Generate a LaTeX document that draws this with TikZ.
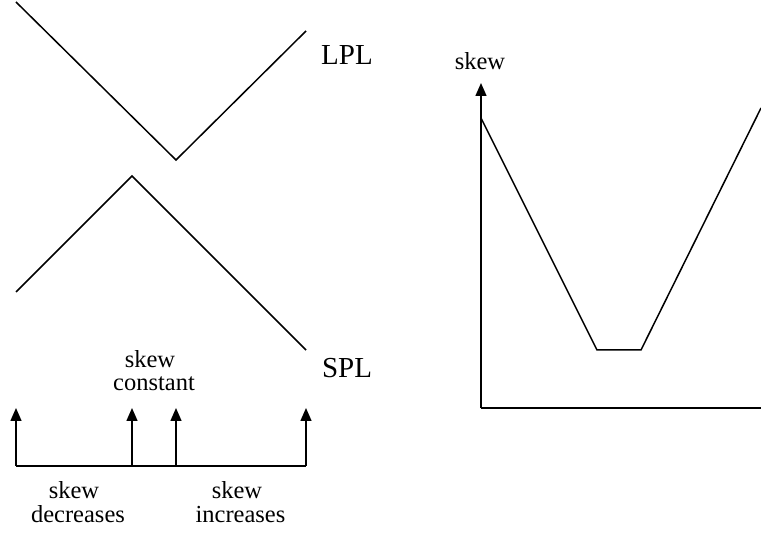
\documentclass[tikz,border=0pt]{standalone}
\usepackage{fontspec}
\setmainfont{Liberation Serif}
\usetikzlibrary{arrows.meta}
\begin{document}
\begin{tikzpicture}[x=1pt,y=-1pt,
  ln/.style={line width=1.5pt, line join=miter},
  arr/.style={ln, -{Triangle[length=13pt,width=11pt]}},
  big/.style={inner sep=0pt, font=\fontsize{29}{30}\selectfont},
  lbl/.style={inner sep=0pt, anchor=base, font=\fontsize{24.5}{24}\selectfont}]
\useasboundingbox (0,0) rectangle (761,534);
% left crossing curves
\coordinate (l1) at (16,2);
\coordinate (l2) at (176,160);
\coordinate (l3) at (306,31);
\draw[ln] (l1) -- (l2) -- (l3);
\coordinate (s1) at (16,292);
\coordinate (s2) at (132,176);
\coordinate (s3) at (306,350);
\draw[ln] (s1) -- (s2) -- (s3);
\node[big] (lpl) at (347,55) {LPL};
\node[big] (spl) at (347,368.5) {SPL};
% arrows on base line
\coordinate (b1) at (16,466);
\coordinate (b2) at (132,466);
\coordinate (b3) at (176,466);
\coordinate (b4) at (306,466);
\coordinate (t1) at (16,408);
\coordinate (t2) at (132,408);
\coordinate (t3) at (176,408);
\coordinate (t4) at (306,408);
\draw[ln] (b1) -- (b4);
\draw[arr] (b1) -- (t1);
\draw[arr] (b2) -- (t2);
\draw[arr] (b3) -- (t3);
\draw[arr] (b4) -- (t4);
\node[lbl] (sc1) at (150,368) {skew};
\node[lbl] (sc2) at (154,390.5) {constant};
\node[lbl] (sd1) at (74,498.5) {skew};
\node[lbl] (sd2) at (78,522.5) {decreases};
\node[lbl] (si1) at (237,498.5) {skew};
\node[lbl] (si2) at (240.5,522.5) {increases};
% graph
\coordinate (o) at (481,408);
\coordinate (ytop) at (481,83);
\coordinate (xend) at (761,408);
\draw[arr] (o) -- (ytop);
\draw[ln] (o) -- (xend);
\node[lbl] (sk) at (480,70) {skew};
\coordinate (c1) at (481,118);
\coordinate (c2) at (597,350);
\coordinate (c3) at (641,350);
\coordinate (c4) at (761,108);
\draw[ln] (c1) -- (c2) -- (c3) -- (c4);
\end{tikzpicture}
\end{document}
